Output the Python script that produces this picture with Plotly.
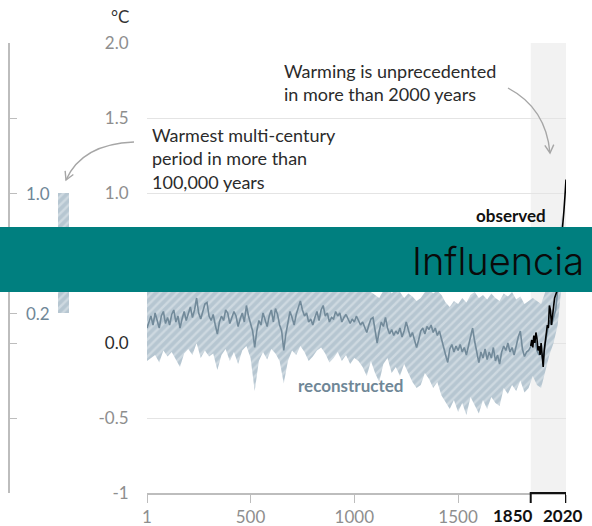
import plotly.graph_objects as go

W, H = 592, 526

# ---------------- data ----------------
recon_years = [1] + list(range(10, 2001, 10))
recon_values = [
    0.10,
    0.14, 0.18, 0.12, 0.20, 0.15, 0.10, 0.18, 0.21, 0.13, 0.17,
    0.12, 0.19, 0.22, 0.14, 0.18, 0.10, 0.16, 0.21, 0.15, 0.19,
    0.24, 0.17, 0.22, 0.30, 0.20, 0.16, 0.22, 0.26, 0.27, 0.18,
    0.15, 0.19, 0.12, 0.06, 0.14, 0.18, 0.15, 0.22, 0.20, 0.13,
    0.17, 0.21, 0.18, 0.11, 0.16, 0.20, 0.14, 0.25, 0.18, 0.12,
    0.08, -0.03, 0.08, 0.15, 0.12, 0.20, 0.16, 0.11, 0.18, 0.22,
    0.14, 0.23, 0.19, 0.12, 0.08, -0.05, 0.06, 0.15, 0.21, 0.17,
    0.12, 0.19, 0.23, 0.28, 0.22, 0.18, 0.20, 0.14, 0.16, 0.12,
    0.17, 0.21, 0.15, 0.22, 0.25, 0.18, 0.20, 0.14, 0.17, 0.16,
    0.21, 0.18, 0.20, 0.14, 0.17, 0.19, 0.16, 0.13, 0.16, 0.14,
    0.18, 0.15, 0.12, 0.14, 0.10, 0.07, 0.12, 0.16, 0.17, 0.08,
    0.00, 0.08, 0.14, 0.11, 0.17, 0.10, 0.06, 0.09, 0.05, 0.08,
    0.06, 0.10, 0.04, 0.08, 0.14, 0.09, 0.04, 0.07, 0.01, -0.03,
    0.02, 0.08, 0.10, 0.06, 0.11, 0.09, 0.12, 0.07, 0.10, 0.05,
    0.08, 0.02, -0.02, -0.08, -0.13, -0.04, -0.01, -0.06, -0.02, -0.05,
    -0.01, -0.06, -0.03, -0.08, -0.02, 0.04, 0.10, 0.01, -0.07, -0.13,
    -0.06, -0.10, -0.04, -0.11, -0.06, -0.10, -0.03, -0.12, -0.08, -0.14,
    -0.06, -0.02, -0.05, 0.00, -0.06, -0.03, -0.08, -0.01, 0.04, 0.08,
    -0.04, -0.09, -0.06, -0.05, -0.02, 0.00, 0.03, -0.05, -0.08, -0.06,
    -0.12, 0.00, 0.08, 0.15, 0.12, 0.18, 0.22, 0.35, 0.50, 0.65,
]

band_years = [1] + list(range(20, 2001, 20))
band_lower = [
    -0.12,
    -0.10, -0.08, -0.13, -0.05, -0.09, -0.06, -0.11, -0.16, -0.07, -0.04,
    -0.08, 0.00, -0.10, -0.05, -0.09, -0.07, -0.18, -0.08, -0.04, -0.12,
    -0.06, -0.14, -0.05, -0.02, -0.10, -0.32, -0.12, -0.06, -0.11, -0.04,
    -0.07, -0.12, -0.27, -0.12, -0.05, -0.08, -0.02, -0.06, -0.12, -0.09,
    -0.05, -0.03, -0.07, -0.13, -0.10, -0.06, -0.12, -0.08, -0.14, -0.10,
    -0.12, -0.16, -0.22, -0.12, -0.20, -0.26, -0.14, -0.10, -0.20, -0.16,
    -0.22, -0.14, -0.20, -0.26, -0.30, -0.28, -0.20, -0.24, -0.30, -0.26,
    -0.35, -0.40, -0.44, -0.38, -0.46, -0.40, -0.48, -0.36, -0.42, -0.47,
    -0.38, -0.44, -0.36, -0.40, -0.42, -0.30, -0.34, -0.28, -0.32, -0.25,
    -0.33, -0.30, -0.22, -0.28, -0.30, -0.18, -0.08, 0.00, 0.12, 0.40,
]
band_upper = [
    0.35,
    0.40, 0.38, 0.42, 0.45, 0.40, 0.44, 0.42, 0.38, 0.43, 0.45,
    0.44, 0.50, 0.46, 0.48, 0.52, 0.45, 0.40, 0.44, 0.47, 0.42,
    0.45, 0.40, 0.46, 0.50, 0.42, 0.38, 0.42, 0.46, 0.44, 0.48,
    0.47, 0.42, 0.36, 0.44, 0.46, 0.50, 0.52, 0.46, 0.42, 0.40,
    0.44, 0.46, 0.50, 0.44, 0.42, 0.45, 0.43, 0.44, 0.40, 0.42,
    0.40, 0.38, 0.36, 0.34, 0.32, 0.30, 0.35, 0.38, 0.33, 0.36,
    0.34, 0.30, 0.33, 0.31, 0.28, 0.30, 0.34, 0.36, 0.33, 0.35,
    0.32, 0.27, 0.24, 0.28, 0.26, 0.30, 0.27, 0.32, 0.34, 0.30,
    0.32, 0.29, 0.33, 0.30, 0.28, 0.33, 0.31, 0.34, 0.29, 0.31,
    0.26, 0.28, 0.30, 0.28, 0.26, 0.34, 0.40, 0.45, 0.60, 0.85,
]

obs_years = list(range(1850, 2021, 5))
obs_values = [
    -0.02, 0.02, -0.03, 0.05, 0.00, 0.07, 0.03, -0.05, -0.02, -0.08,
    0.00, -0.10, -0.16, -0.05, 0.00, 0.05, 0.12, 0.10, 0.25, 0.22,
    0.12, 0.18, 0.26, 0.30, 0.32, 0.34, 0.42, 0.47, 0.56, 0.63,
    0.72, 0.82, 0.88, 0.98, 1.09,
]

warm_range = [0.2, 1.0]          # warmest multi-century period
y_ticks = [-1, -0.5, 0, 0.5, 1, 1.5, 2]
y_ticktext = ["-1", "-0.5", "<span style='color:#2b2b2b'>0.0</span>", "0.5", "1.0", "1.5", "2.0"]
x_ticks = [1, 500, 1000, 1500, 1850, 2020]
x_ticktext = ["1", "500", "1000", "1500", "", ""]
period_labels = ["1850", "2020"]
left_ticks = [-1, -0.5, 0, 0.2, 0.5, 1, 1.5, 2]

# ---------------- helpers (pixel -> paper) ----------------
def px(x):
    return x / W

def py(y):
    return 1 - y / H

FONT = "Lato, 'Open Sans', sans-serif"
GRAY = "#8e8e8e"
BLUE = "#728a9a"
HATCH = dict(shape="/", bgcolor="#b6c6d1", fgcolor="#e6ecf0", size=6, solidity=0.4)

fig = go.Figure()

# uncertainty band
fig.add_trace(go.Scatter(
    x=band_years + band_years[::-1],
    y=band_lower + band_upper[::-1],
    fill="toself", mode="lines", line=dict(width=0),
    fillcolor="#b6c6d1", fillpattern=HATCH,
    hoverinfo="skip", showlegend=False, xaxis="x", yaxis="y"))

# reconstructed line
fig.add_trace(go.Scatter(
    x=recon_years, y=recon_values, mode="lines",
    line=dict(color=BLUE, width=1.6), showlegend=False))

# observed line
fig.add_trace(go.Scatter(
    x=obs_years, y=obs_values, mode="lines",
    line=dict(color="#000000", width=1.6), showlegend=False))

# left panel hatched bar
fig.add_trace(go.Bar(
    x=[0.39], y=[warm_range[1] - warm_range[0]], base=[warm_range[0]],
    width=0.08, xaxis="x2", yaxis="y2",
    marker=dict(color="#b6c6d1", line=dict(width=0), pattern=HATCH),
    showlegend=False, hoverinfo="skip"))

fig.update_layout(
    width=W, height=H,
    margin=dict(l=0, r=0, t=0, b=0, autoexpand=False),
    paper_bgcolor="white", plot_bgcolor="rgba(0,0,0,0)",
    font=dict(family=FONT, size=17, color=GRAY),
    xaxis=dict(
        domain=[px(147), px(566)], range=[1, 2020], automargin=False,
        showgrid=False, zeroline=False,
        showline=True, linecolor="#bdbdbd", linewidth=1.5,
        ticks="outside", ticklen=8, tickcolor="#bdbdbd", tickwidth=1.2,
        tickvals=x_ticks, ticktext=x_ticktext, tickangle=0,
        tickfont=dict(family=FONT, size=17, color=GRAY),
        anchor="y",
    ),
    yaxis=dict(
        domain=[py(493), py(43)], range=[-1, 2], automargin=False,
        showgrid=True, gridcolor="#e4e4e4", gridwidth=1.2,
        zeroline=False, showline=False,
        ticks="outside", ticklen=14, tickcolor="rgba(0,0,0,0)",
        tickvals=y_ticks, ticktext=y_ticktext,
        tickfont=dict(family=FONT, size=17, color=GRAY),
        anchor="x",
    ),
    xaxis2=dict(domain=[px(10), px(147)], range=[0, 1], visible=False,
                anchor="y2", automargin=False),
    yaxis2=dict(
        domain=[py(493), py(43)], range=[-1, 2], anchor="x2", automargin=False,
        showgrid=False, zeroline=False,
        showline=True, linecolor="#bdbdbd", linewidth=1.5,
        ticks="inside", ticklen=7, tickcolor="#bdbdbd", tickwidth=1.2,
        tickvals=left_ticks, showticklabels=False,
    ),
    bargap=0,
)

shapes = []
# observation period shading
shapes.append(dict(type="rect", xref="x", yref="y",
                   x0=obs_years[0], x1=obs_years[-1], y0=-1, y1=2,
                   fillcolor="#f2f2f2", line=dict(width=0), layer="below"))
# bracket 1850-2020 (paper y so it is not clipped)
shapes.append(dict(type="path", xref="x", yref="paper",
                   path=(f"M {obs_years[0]},{py(503)} L {obs_years[0]},{py(493)} "
                         f"L {obs_years[-1]},{py(493)} L {obs_years[-1]},{py(503)}"),
                   line=dict(color="#111", width=2)))


def curve(p0, c, p1):
    return f"M {px(p0[0])},{py(p0[1])} Q {px(c[0])},{py(c[1])} {px(p1[0])},{py(p1[1])}"


def head(c, p1, L=8, Wd=4.5):
    dx, dy = p1[0] - c[0], p1[1] - c[1]
    n = (dx * dx + dy * dy) ** 0.5
    dx, dy = dx / n, dy / n
    bx, by = p1[0] - L * dx, p1[1] - L * dy
    a = (bx - Wd * dy, by + Wd * dx)
    b = (bx + Wd * dy, by - Wd * dx)
    return (f"M {px(a[0])},{py(a[1])} L {px(p1[0])},{py(p1[1])} "
            f"L {px(b[0])},{py(b[1])}")


ARROW = dict(color="#a6a6a6", width=1.4)
for p0, c, p1 in [((508, 88), (546, 108), (550, 153)),
                  ((134, 142), (82, 144), (66, 180))]:
    shapes.append(dict(type="path", xref="paper", yref="paper", path=curve(p0, c, p1), line=ARROW))
    shapes.append(dict(type="path", xref="paper", yref="paper", path=head(c, p1), line=ARROW))

# teal banner on top
shapes.append(dict(type="rect", xref="paper", yref="paper",
                   x0=0, x1=1, y0=py(292), y1=py(227),
                   fillcolor="#007f7f", line=dict(width=0), layer="above"))
fig.update_layout(shapes=shapes)

ann = []
ann.append(dict(text="°C", xref="paper", yref="paper", x=px(131), y=py(16),
                xanchor="right", yanchor="middle", showarrow=False,
                font=dict(family=FONT, size=17, color="#333")))
ann.append(dict(text="Warming is unprecedented<br>in more than 2000 years",
                xref="paper", yref="paper", x=px(282), y=py(82),
                xanchor="left", yanchor="middle", align="left", showarrow=False,
                font=dict(family=FONT, size=18, color="#2b2b2b")))
ann.append(dict(text="Warmest multi-century<br>period in more than<br>100,000 years",
                xref="paper", yref="paper", x=px(150), y=py(158),
                xanchor="left", yanchor="middle", align="left", showarrow=False,
                font=dict(family=FONT, size=18, color="#2b2b2b")))
ann.append(dict(text="<b>observed</b>", xref="paper", yref="paper", x=px(548), y=py(215),
                xanchor="right", yanchor="middle", showarrow=False,
                font=dict(family=FONT, size=17, color="#111")))
ann.append(dict(text="<b>reconstructed</b>", xref="paper", yref="paper", x=px(296), y=py(385),
                xanchor="left", yanchor="middle", showarrow=False,
                font=dict(family=FONT, size=17, color="#6f8797")))
# bold period labels under bracket
ann.append(dict(text=f"<b>{period_labels[0]}</b>", xref="paper", yref="paper", x=px(535), y=py(515),
                xanchor="right", yanchor="middle", showarrow=False,
                font=dict(family=FONT, size=17, color="#111")))
ann.append(dict(text=f"<b>{period_labels[1]}</b>", xref="paper", yref="paper", x=px(541), y=py(515),
                xanchor="left", yanchor="middle", showarrow=False,
                font=dict(family=FONT, size=17, color="#111")))
for v in warm_range:
    ann.append(dict(text=f"{v:.1f}", xref="paper", yref="y", x=px(24), y=v,
                    xanchor="left", yanchor="middle", showarrow=False,
                    font=dict(family=FONT, size=17, color="#6f8797")))
ann.append(dict(text="Influencia", xref="paper", yref="paper", x=px(586), y=py(261),
                xanchor="right", yanchor="middle", showarrow=False,
                font=dict(family="Inter, 'Noto Sans', sans-serif", size=38, color="#0a0a0a", weight=300)))
fig.update_layout(annotations=ann)

fig.write_html("out.html")
